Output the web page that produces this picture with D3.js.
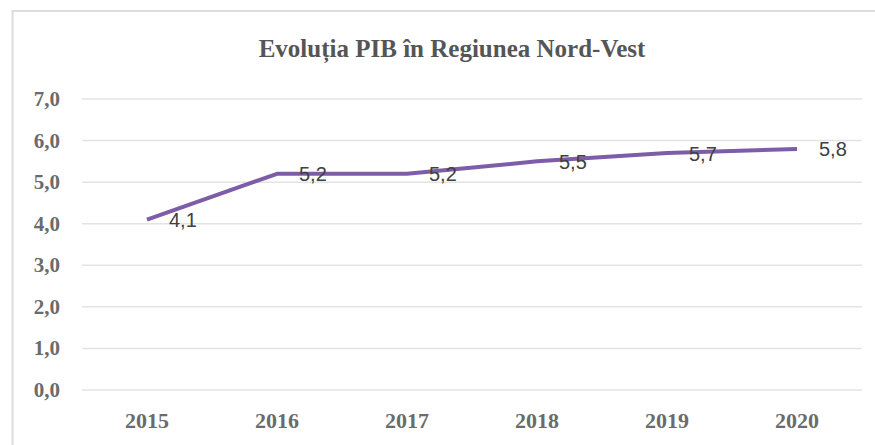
<!DOCTYPE html>
<html>
<head>
<meta charset="utf-8">
<script src="https://cdn.jsdelivr.net/npm/d3@7"></script>
<style>
  body { margin: 0; background: #fff; }
  svg { display: block; }
</style>
</head>
<body>
<svg id="chart" width="875" height="445"></svg>
<script>
// Chart data
var years = ["2015", "2016", "2017", "2018", "2019", "2020"]
var pib = [4.1, 5.2, 5.2, 5.5, 5.7, 5.8]
var yTicks = [0, 1, 2, 3, 4, 5, 6, 7]
var title = "Evoluția PIB în Regiunea Nord-Vest"

var svg = d3.select("#chart")
var width = 875
var height = 445
var margin = { top: 99, right: 13, bottom: 55, left: 82 }

// light frame around the chart area
svg.append("rect")
  .attr("x", 12.5)
  .attr("y", 11)
  .attr("width", width + 20)
  .attr("height", height + 20)
  .attr("fill", "none")
  .attr("stroke", "#dcdcdc")
  .attr("stroke-width", 2)

var x = d3.scaleBand()
  .domain(years)
  .range([margin.left, width - margin.right])

var y = d3.scaleLinear()
  .domain([0, 7])
  .range([390, margin.top])

// horizontal grid
svg.append("g")
  .selectAll("line")
  .data(yTicks)
  .enter()
  .append("line")
  .attr("x1", margin.left)
  .attr("x2", width - margin.right)
  .attr("y1", d => y(d))
  .attr("y2", d => y(d))
  .attr("stroke", "#e3e3e3")
  .attr("stroke-width", 1.5)

// y axis labels (comma decimal)
var fmt = d => d.toFixed(1).replace(".", ",")
svg.append("g")
  .selectAll("text")
  .data(yTicks)
  .enter()
  .append("text")
  .attr("x", 60)
  .attr("y", d => y(d))
  .attr("dy", "0.33em")
  .attr("text-anchor", "end")
  .attr("font-family", "Liberation Serif, serif")
  .attr("font-weight", "bold")
  .attr("font-size", 21)
  .attr("fill", "#6b6b6b")
  .text(fmt)

// x axis labels
var xAxis = d3.axisBottom(x).tickSize(0).tickPadding(0)
var gx = svg.append("g")
  .attr("transform", "translate(0," + 428 + ")")
  .call(xAxis)
gx.select(".domain").remove()
gx.selectAll("text")
  .attr("dy", 0)
  .attr("y", 0)
  .attr("font-family", "Liberation Serif, serif")
  .attr("font-weight", "bold")
  .attr("font-size", 22)
  .attr("fill", "#6b6b6b")

// the line
var line = d3.line()
  .x((d, i) => x(years[i]) + x.bandwidth() / 2)
  .y(d => y(d))

svg.append("path")
  .datum(pib)
  .attr("d", line)
  .attr("fill", "none")
  .attr("stroke", "#7d5ca8")
  .attr("stroke-width", 4)
  .attr("stroke-linejoin", "round")

// data labels to the right of each point
svg.append("g")
  .selectAll("text")
  .data(pib)
  .enter()
  .append("text")
  .attr("x", (d, i) => x(years[i]) + x.bandwidth() / 2 + 22)
  .attr("y", d => y(d))
  .attr("dy", "0.38em")
  .attr("font-family", "Liberation Sans, sans-serif")
  .attr("font-size", 20)
  .attr("fill", "#404040")
  .text(fmt)

// title
svg.append("text")
  .attr("x", 452)
  .attr("y", 57)
  .attr("text-anchor", "middle")
  .attr("font-family", "Liberation Serif, serif")
  .attr("font-weight", "bold")
  .attr("font-size", 25)
  .attr("fill", "#555555")
  .text(title)
</script>
</body>
</html>
